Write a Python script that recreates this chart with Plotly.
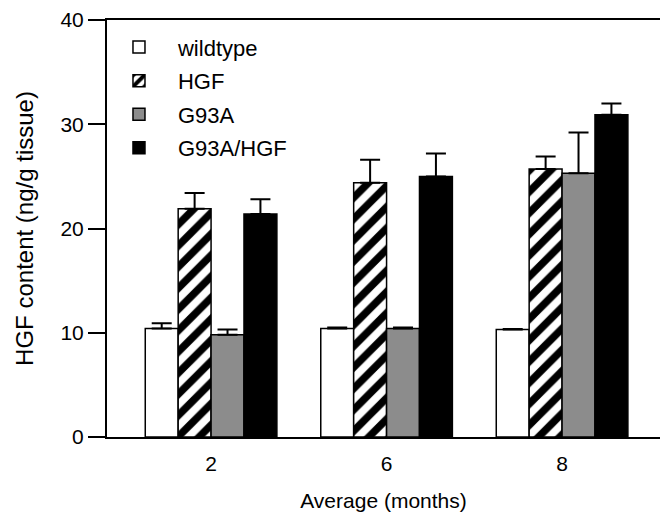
import plotly.graph_objects as go

categories = ["2", "6", "8"]
series_names = ["wildtype", "HGF", "G93A", "G93A/HGF"]
wildtype = [10.4, 10.4, 10.3]
wildtype_err = [0.5, 0.1, 0.05]
hgf = [21.9, 24.4, 25.7]
hgf_err = [1.5, 2.2, 1.2]
g93a = [9.8, 10.4, 25.3]
g93a_err = [0.5, 0.1, 3.9]
g93a_hgf = [21.4, 25.0, 30.9]
g93a_hgf_err = [1.4, 2.2, 1.1]
y_ticks = [0, 10, 20, 30, 40]

FONT = "Liberation Sans, Arial, sans-serif"

styles = [
    dict(color="white", pattern=None),
    dict(color="white", pattern=dict(shape="/", fgcolor="black", bgcolor="white",
                                     size=15, solidity=0.5, fgopacity=1)),
    dict(color="#8c8c8c", pattern=None),
    dict(color="black", pattern=None),
]
values = [wildtype, hgf, g93a, g93a_hgf]
errors = [wildtype_err, hgf_err, g93a_err, g93a_hgf_err]

fig = go.Figure()
for name, vals, errs, st in zip(series_names, values, errors, styles):
    marker = dict(color=st["color"], line=dict(color="black", width=1.5))
    if st["pattern"]:
        marker["pattern"] = st["pattern"]
    fig.add_trace(go.Bar(
        name=name, legendgroup=name, x=list(range(len(categories))), y=vals,
        marker=marker,
        error_y=dict(type="data", array=errs, arrayminus=[0] * len(errs), symmetric=False,
                     color="black", thickness=2, width=10),
    ))

fig.update_layout(
    width=660, height=513,
    margin=dict(l=107, r=0, t=20, b=76),
    paper_bgcolor="white", plot_bgcolor="white",
    barmode="group", bargap=0.25, bargroupgap=0,
    font=dict(family=FONT, size=21, color="black"),
    showlegend=True,
    legend=dict(x=-0.0127, y=0.985, xanchor="left", yanchor="top",
                font=dict(family=FONT, size=22), bgcolor="rgba(0,0,0,0)",
                tracegroupgap=2, itemwidth=68),
    xaxis=dict(
        tickmode="array", tickvals=list(range(len(categories))), ticktext=categories,
        range=[-0.593, 2.558], showgrid=False, zeroline=False,
        showline=True, linecolor="black", linewidth=2, mirror=True,
        ticks="", ticklabelstandoff=7,
        tickfont=dict(family=FONT, size=21),
        title=dict(text="Average (months)", font=dict(family=FONT, size=21), standoff=19),
    ),
    yaxis=dict(
        range=[0, 40], tickvals=y_ticks, showgrid=False, zeroline=False,
        showline=True, linecolor="black", linewidth=2,
        ticks="outside", ticklen=17, tickwidth=2, tickcolor="black",
        tickfont=dict(family=FONT, size=21),
        title=dict(text="HGF content (ng/g tissue)", font=dict(family=FONT, size=24), standoff=20),
    ),
)

fig.write_html(
    "out.html",
    config={"displayModeBar": False},
    post_script="document.body.style.margin='0';document.body.style.overflow='hidden';",
)
